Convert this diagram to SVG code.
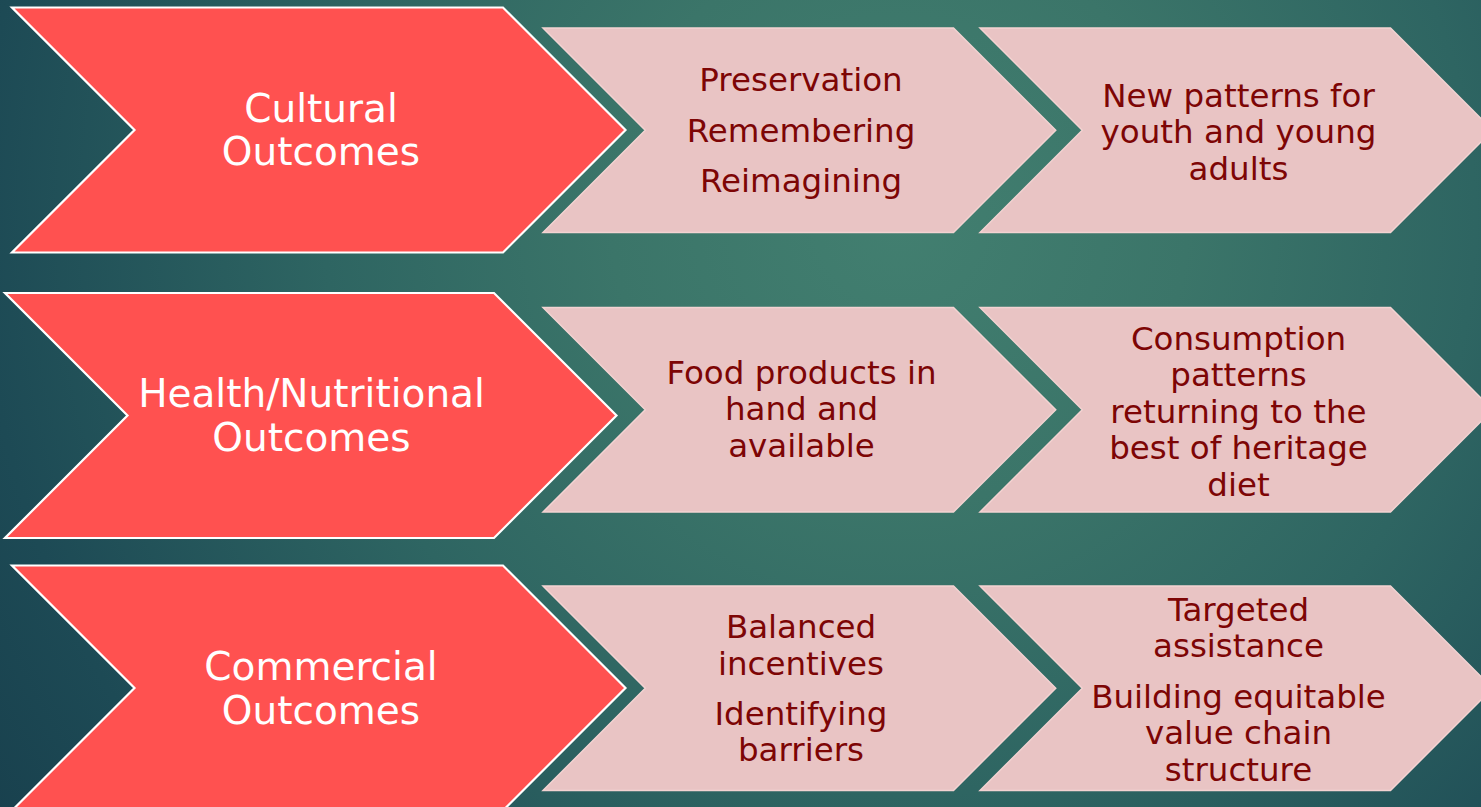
<svg xmlns="http://www.w3.org/2000/svg" xmlns:xlink="http://www.w3.org/1999/xlink" width="1481" height="807" viewBox="0 0 1481 807">
  <style>
    .head { fill: #FF5150; stroke: #FFFFFF; stroke-width: 2.2; stroke-linejoin: miter; }
    .step { fill: #E9C4C4; stroke: #F3D3D2; stroke-width: 1.5; }
    .headText { font-family: "DejaVu Sans", Verdana, sans-serif; font-size: 39px; fill: #FFFFFF; text-anchor: middle; }
    .stepText { font-family: "DejaVu Sans", Verdana, sans-serif; font-size: 32.5px; fill: #7D0505; text-anchor: middle; }
  </style>
  <defs>
    <radialGradient id="bg" cx="900" cy="220" r="1150" gradientUnits="userSpaceOnUse">
      <stop offset="0" stop-color="#427F70"/>
      <stop offset="0.25" stop-color="#3B7569"/>
      <stop offset="0.5" stop-color="#2E6562"/>
      <stop offset="0.8" stop-color="#1D4A55"/>
      <stop offset="1" stop-color="#173D4B"/>
    </radialGradient>
    <polygon id="stepShape" points="0,0 410.5,0 512.75,102.25 410.5,204.5 0,204.5 102.25,102.25"/>
  </defs>

  <!-- background -->
  <rect x="0" y="0" width="1481" height="807" fill="url(#bg)"/>

  <!-- row 1: cultural -->
  <g id="cultural">
    <polygon class="head" points="12,7.5 503,7.5 625.5,130 503,252.5 12,252.5 134.5,130"/>
    <text class="headText" x="321" y="122">Cultural</text>
    <text class="headText" x="321" y="164.5">Outcomes</text>
  </g>
  <g id="cultural-step1">
    <use xlink:href="#stepShape" class="step" x="543" y="28"/>
    <text class="stepText" x="801" y="91">Preservation</text>
    <text class="stepText" x="801" y="141.5">Remembering</text>
    <text class="stepText" x="801" y="192">Reimagining</text>
  </g>
  <g id="cultural-step2">
    <use xlink:href="#stepShape" class="step" x="980" y="28"/>
    <text class="stepText" x="1238.5" y="106.5">New patterns for</text>
    <text class="stepText" x="1238.5" y="143">youth and young</text>
    <text class="stepText" x="1238.5" y="179.5">adults</text>
  </g>

  <!-- row 2: health / nutritional -->
  <g id="health">
    <polygon class="head" points="5,293 494,293 616.5,415.5 494,538 5,538 127.5,415.5"/>
    <text class="headText" x="311.5" y="407">Health/Nutritional</text>
    <text class="headText" x="311.5" y="450.5">Outcomes</text>
  </g>
  <g id="health-step1">
    <use xlink:href="#stepShape" class="step" x="543" y="307.5"/>
    <text class="stepText" x="801.5" y="383.5">Food products in</text>
    <text class="stepText" x="801.5" y="420">hand and</text>
    <text class="stepText" x="801.5" y="456.5">available</text>
  </g>
  <g id="health-step2">
    <use xlink:href="#stepShape" class="step" x="980" y="307.5"/>
    <text class="stepText" x="1238.5" y="350">Consumption</text>
    <text class="stepText" x="1238.5" y="386">patterns</text>
    <text class="stepText" x="1238.5" y="422.5">returning to the</text>
    <text class="stepText" x="1238.5" y="459">best of heritage</text>
    <text class="stepText" x="1238.5" y="495.5">diet</text>
  </g>

  <!-- row 3: commercial -->
  <g id="commercial">
    <polygon class="head" points="12,565.5 503,565.5 625.5,688 503,810.5 12,810.5 134.5,688"/>
    <text class="headText" x="321" y="680">Commercial</text>
    <text class="headText" x="321" y="724">Outcomes</text>
  </g>
  <g id="commercial-step1">
    <use xlink:href="#stepShape" class="step" x="543" y="586"/>
    <text class="stepText" x="801" y="638">Balanced</text>
    <text class="stepText" x="801" y="674.5">incentives</text>
    <text class="stepText" x="801" y="724.5">Identifying</text>
    <text class="stepText" x="801" y="761">barriers</text>
  </g>
  <g id="commercial-step2">
    <use xlink:href="#stepShape" class="step" x="980" y="586"/>
    <text class="stepText" x="1238.5" y="620.5">Targeted</text>
    <text class="stepText" x="1238.5" y="657">assistance</text>
    <text class="stepText" x="1238.5" y="707.5">Building equitable</text>
    <text class="stepText" x="1238.5" y="744">value chain</text>
    <text class="stepText" x="1238.5" y="780.5">structure</text>
  </g>
</svg>
